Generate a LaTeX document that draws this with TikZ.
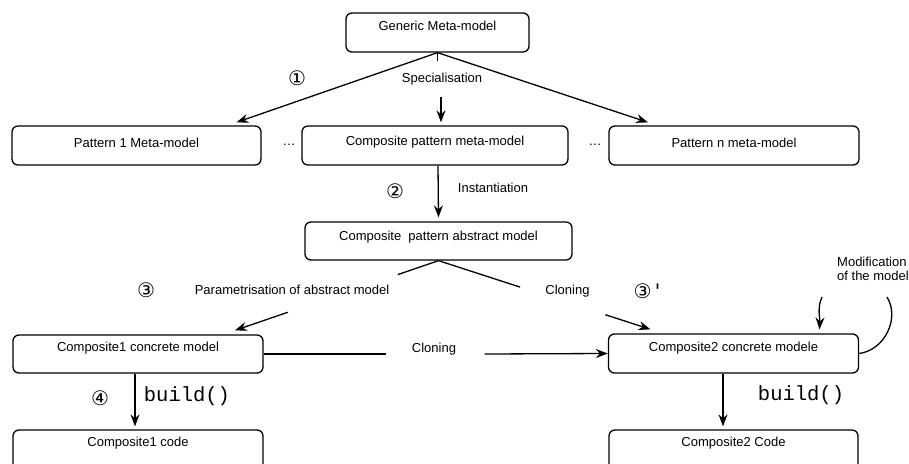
\documentclass[tikz,border=0pt]{standalone}
\usepackage{fontspec}
\setmainfont{Liberation Sans}
\setmonofont{Liberation Mono}
\newfontfamily\symfont{DejaVu Sans}
\usetikzlibrary{arrows.meta,calc}
\begin{document}
\begin{tikzpicture}[x=1pt,y=-1pt,
  box/.style={draw,rounded corners=6pt,line width=1.3pt,inner sep=0pt},
  lbl/.style={font=\fontsize{13}{14}\selectfont,inner sep=0pt},
  ln/.style={line width=1.3pt},
  arr/.style={line width=1.3pt,-{Stealth[length=12pt,width=9pt,inset=4pt]}},
  num/.style={font=\symfont\fontsize{20}{20}\selectfont,inner sep=0pt},
  codelbl/.style={font=\ttfamily\fontsize{20.5}{22}\selectfont,inner sep=0pt}]
\clip (0,0) rectangle (909,463);
\fill[white] (0,0) rectangle (909,463);
% boxes
\node[box,minimum width=183pt,minimum height=39pt] (gm) at (437.5,32.5) {};
\node[lbl] (gmt) at (437.5,26) {Generic Meta-model};
\node[box,minimum width=249pt,minimum height=39pt] (p1) at (136.5,145.5) {};
\node[lbl] (p1t) at (136.5,143) {Pattern 1 Meta-model};
\node[box,minimum width=266pt,minimum height=39pt] (cpm) at (435,145.5) {};
\node[lbl] (cpmt) at (435,142) {Composite pattern meta-model};
\node[box,minimum width=250pt,minimum height=39pt] (pn) at (734,145.5) {};
\node[lbl] (pnt) at (734,143) {Pattern n meta-model};
\node[lbl] (d1) at (289,145) {\dots};
\node[lbl] (d2) at (595,145) {\dots};
\node[box,minimum width=267pt,minimum height=38pt] (cpa) at (438.5,241) {};
\node[lbl] (cpat) at (438.5,237) {Composite\ \ pattern abstract model};
\node[box,minimum width=250pt,minimum height=38pt] (c1) at (138,354) {};
\node[lbl] (c1t) at (138,348) {Composite1 concrete model};
\node[box,minimum width=250pt,minimum height=39pt] (c2) at (733.5,353.5) {};
\node[lbl] (c2t) at (733.5,348) {Composite2 concrete modele};
\node[box,minimum width=250pt,minimum height=50pt] (k1) at (138,455) {};
\node[lbl] (k1t) at (138,443) {Composite1 code};
\node[box,minimum width=249pt,minimum height=50pt] (k2) at (733.5,455) {};
\node[lbl] (k2t) at (733.5,443) {Composite2 Code};
% specialisation
\draw[arr] (gm.south) -- ($(p1.north)+(100,-3)$);
\draw[arr] (gm.south) -- ($(pn.north)+(-86,-3)$);
\draw[ln] (gm.south) -- ++(0,8);
\node[lbl] (spec) at (442,79) {Specialisation};
\coordinate (s1) at (441,97);
\draw[arr] (s1) -- ($(cpm.north)+(6,-3)$);
\node[num] (n1) at (297,78) {①};
% instantiation
\draw[arr] ($(cpm.south)+(3,0)$) -- ($(cpa.north)+(0,-4)$);
\node[lbl] (inst) at (493,188) {Instantiation};
\node[num] (n2) at (395,191) {②};
% parametrisation
\coordinate (t1) at ($(c1.north)+(97,-4)$);
\draw[ln] (cpa.south) -- ($(cpa.south)!0.2!(t1)$);
\draw[arr] ($(cpa.south)!0.74!(t1)$) -- (t1);
\node[lbl] (param) at (292,290) {Parametrisation of abstract model};
\node[num] (n3) at (146,290) {③};
% cloning from abstract
\coordinate (t2) at ($(c2.north)+(-83,-4)$);
\draw[ln] (cpa.south) -- ($(cpa.south)!0.385!(t2)$);
\draw[arr] ($(cpa.south)!0.787!(t2)$) -- (t2);
\node[lbl] (clon1) at (567.5,291) {Cloning};
\node[num] (n3b) at (647,291) {③\,'};
% cloning horizontal
\draw[ln] (c1.east) -- ++(122,0);
\node[lbl] (clon2) at (434,349) {Cloning};
\draw[arr] ($(c1.east)+(221,0)$) -- (c2.west);
% modification
\node[lbl,align=left,anchor=west,font=\fontsize{13}{14}\selectfont] (mod) at (837,269) {Modification\\of the model};
\coordinate (m1) at (887,297);
\draw[ln] (c2.east) .. controls (885,350) and (900,318) .. (m1);
\coordinate (m2) at (822,297);
\draw[arr] (m2) .. controls (817,308) and (820,318) .. ($(c2.north)+(86,-4)$);
% build
\draw[arr] ($(c1.south)+(-3,0)$) -- ($(k1.north)+(-3,-3)$);
\node[codelbl] (b1) at (187,396) {build()};
\node[num] (n4) at (100,398) {④};
\draw[arr] ($(c2.south)+(-10.5,0)$) -- ($(k2.north)+(-10.5,-3)$);
\node[codelbl] (b2) at (801,395) {build()};
\end{tikzpicture}
\end{document}
